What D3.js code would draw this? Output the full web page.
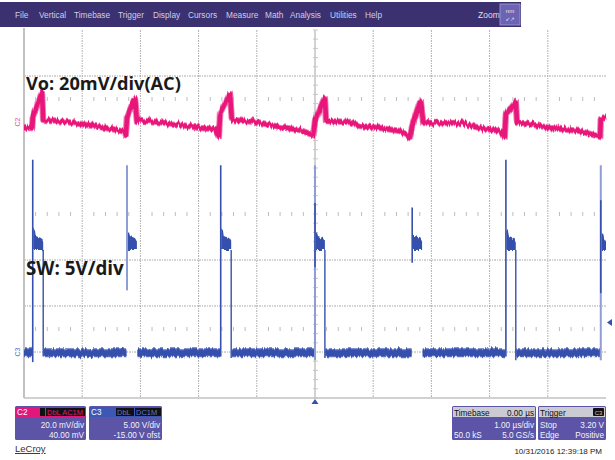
<!DOCTYPE html>
<html><head><meta charset="utf-8">
<script src="https://cdn.jsdelivr.net/npm/d3@7"></script>
<style>body{margin:0;background:#fff}svg{display:block}</style>
</head><body>
<svg id="c" width="615" height="460"></svg>
<script>
// ---------------- DATA ----------------
const menuItems = ["File","Vertical","Timebase","Trigger","Display","Cursors","Measure","Math","Analysis","Utilities","Help"];
const menuX = [15,39,74,118,153,188,226,265,290,330,365];
// time axis (µs), 1 µs/div, trigger at 0
const timeDivs = [-5,-4,-3,-2,-1,0,1,2,3,4,5];
// Vo (C2, AC, 20 mV/div): time µs, mV
const voT = [-5.00,-4.86,-4.85,-4.71,-4.69,-4.67,-4.55,-4.26,-3.69,-3.40,-3.26,-3.25,-3.23,-3.11,-3.09,-3.06,-2.84,-2.41,-1.98,-1.72,-1.65,-1.63,-1.48,-1.46,-1.43,-1.00,-0.60,-0.26,-0.03,0.00,0.15,0.17,0.19,0.60,0.77,1.12,1.46,1.63,1.67,1.80,1.82,1.86,2.49,2.84,3.18,3.26,3.28,3.44,3.45,3.47,3.69,4.04,4.55,4.90,4.91,5.00];
const voMv = [-2.6,-2.6,1.7,11.7,12.6,0.9,0.9,0.0,-2.2,-3.5,-4.3,-5.7,2.2,9.6,10.0,0.4,0.4,-0.9,-2.6,-3.0,-6.1,3.5,11.3,12.2,0.9,0.0,-2.2,-3.5,-5.7,0.9,9.6,10.4,0.4,0.0,-1.7,-2.6,-3.9,-6.5,-2.2,8.3,8.7,-0.4,-0.4,-2.6,-3.9,-6.5,3.5,8.3,8.7,0.0,-0.9,-2.6,-3.9,-6.5,1.3,1.7];
// SW (C3, 5 V/div): pulse timing (µs) and levels (V)
const swStart = [-4.85,-3.23,-1.62,0.00,1.67,3.28,4.91];
const swEnd   = [-4.67,-3.06,-1.44,0.17,1.84,3.45,5.00];
const edgeTop = [20.9,20.3,20.3,20.3,15.7,20.9,20.3];
const edgeBot = [-1.1,6.7,-0.5,-0.9,9.7,-0.5,-0.9];
const edgeFaint = [false,true,false,true,false,false,true];
const darkTop = [null,null,null,16.2,null,null,16.5];
const darkBot = [null,null,null,9.2,null,null,6.4];
const fallBot = [-0.5,null,-0.65,-0.65,null,-0.9,null];
const plateauPeak = [13.4,13.0,13.4,13.0,12.6,13.2,13.0];
const plateauTop = 12.4, plateauBot = 11.1;
const trigLevel = 3.2;

// ---------------- LAYOUT ----------------
const svg = d3.select("#c");
const X0 = 24, X1 = 606, Y0 = 30, DIV = 46;
const x = d3.scaleLinear().domain([-5,5]).range([X0,X1]);
const yVo = d3.scaleLinear().domain([-20,20]).range([Y0+DIV*3, Y0+DIV*1]); // 0 mV at 122
const ySw = d3.scaleLinear().domain([0,5]).range([Y0+DIV*7, Y0+DIV*6]);   // 0 V at 352
const pink = "#e8157a", blue = "#3650ad", faintBlue = "#8f9cd6";

// trace "fuzz" style filters (vertical jitter only)
const defs = svg.append("defs");
function fuzz(id, scale, seed){
  const flt = defs.append("filter").attr("id",id).attr("filterUnits","userSpaceOnUse")
    .attr("x",0).attr("y",0).attr("width",615).attr("height",460);
  flt.append("feTurbulence").attr("type","fractalNoise").attr("baseFrequency","0.55 0.03").attr("numOctaves",2).attr("seed",seed).attr("result","n");
  flt.append("feColorMatrix").attr("in","n").attr("type","matrix")
    .attr("values","0 0 0 0 0.5  0 1 0 0 0  0 0 1 0 0  0 0 0 1 0").attr("result","m");
  flt.append("feDisplacementMap").attr("in","SourceGraphic").attr("in2","m").attr("scale",scale)
    .attr("xChannelSelector","R").attr("yChannelSelector","G");
}
fuzz("fuzzP",7,3);
fuzz("fuzzB",5,7);

// menu bar
svg.append("rect").attr("x",0).attr("y",2).attr("width",521).attr("height",25).attr("fill","#3b3170");
svg.selectAll("text.menu").data(menuItems).join("text").attr("class","menu")
  .attr("x",(d,i)=>menuX[i]).attr("y",18).text(d=>d)
  .attr("font-family","Liberation Sans, Arial, sans-serif").attr("font-size",8.3).attr("fill","#cfcde6");
svg.append("text").attr("x",478).attr("y",18).text("Zoom").attr("font-family","Liberation Sans, Arial, sans-serif").attr("font-size",8.5).attr("fill","#e0def2");
svg.append("rect").attr("x",500).attr("y",4).attr("width",20).attr("height",21).attr("fill","#6c63b2").attr("stroke","#a59fd8").attr("stroke-width",0.8);
svg.append("text").attr("x",510).attr("y",13).attr("text-anchor","middle").text("nm").attr("font-family","Liberation Sans, Arial").attr("font-size",6).attr("fill","#e8e6f8");
svg.append("text").attr("x",510).attr("y",21).attr("text-anchor","middle").text("\u2199\u2197").attr("font-family","DejaVu Sans").attr("font-size",5.5).attr("fill","#e8e6f8");

// grid
const g = svg.append("g");
timeDivs.forEach((t,i)=>{
  if (i===0 || i===5 || i===10) return;
  g.append("line").attr("x1",x(t)).attr("x2",x(t)).attr("y1",Y0).attr("y2",Y0+DIV*8)
    .attr("stroke","#b0b0b0").attr("stroke-width",1).attr("stroke-dasharray","2,1,1,1");
});
[1,5,6,7].forEach(k=>{
  g.append("line").attr("x1",X0).attr("x2",X1).attr("y1",Y0+DIV*k).attr("y2",Y0+DIV*k)
    .attr("stroke","#a8a8a8").attr("stroke-width",1).attr("stroke-dasharray","2,1,1,1");
});
// tick rows
const minor = d3.range(0,51).map(n=>-5+n*0.2);
[1.5,4,6.5].forEach(k=>{
  g.selectAll(null).data(minor.filter((m,i)=>i%5!==0)).join("line")
    .attr("x1",d=>x(d)).attr("x2",d=>x(d)).attr("y1",Y0+DIV*k-2).attr("y2",Y0+DIV*k+2)
    .attr("stroke","#bdbdbd").attr("stroke-width",1);
});
// center vertical axis with ticks
g.append("line").attr("x1",x(0)).attr("x2",x(0)).attr("y1",Y0).attr("y2",Y0+DIV*8).attr("stroke","#d2d2d2").attr("stroke-width",2);
g.selectAll(null).data(d3.range(0,41)).join("line")
  .attr("x1",x(0)-2).attr("x2",x(0)+3).attr("y1",d=>Y0+d*DIV/5).attr("y2",d=>Y0+d*DIV/5)
  .attr("stroke","#c8c8c8").attr("stroke-width",1);
// left and bottom border
g.append("line").attr("x1",X0).attr("x2",X0).attr("y1",Y0-2).attr("y2",Y0+DIV*8).attr("stroke","#c2c2c2").attr("stroke-width",2);
g.append("line").attr("x1",X0).attr("x2",X1).attr("y1",Y0+DIV*8).attr("y2",Y0+DIV*8).attr("stroke","#c2c2c2").attr("stroke-width",1.5);

// ---------------- SW trace ----------------
const tr = svg.append("g");
const fz = tr.append("g").attr("filter","url(#fuzzB)");
// baseline segments
const segs = [];
segs.push([-5, swStart[0]]);
for (let i=0;i<swStart.length-1;i++) segs.push([swEnd[i]+0.01, swStart[i+1]-0.01]);
fz.selectAll(null).data(segs).join("line")
  .attr("x1",d=>x(d[0])).attr("x2",d=>x(d[1])).attr("y1",ySw(-0.08)).attr("y2",ySw(-0.08))
  .attr("stroke","#5a6ec2").attr("stroke-width",9);
fz.selectAll(null).data(segs).join("line")
  .attr("x1",d=>x(d[0])).attr("x2",d=>x(d[1])).attr("y1",ySw(-0.08)).attr("y2",ySw(-0.08))
  .attr("stroke",blue).attr("stroke-width",6.5);
// plateaus
fz.selectAll(null).data(swStart).join("path")
  .attr("d",(d,i)=>{
    const a=x(d)+0.5, b=x(swEnd[i]);
    return `M${a},${ySw(plateauPeak[i])} L${a+1.5},${ySw(plateauPeak[i])} L${a+2.5},${ySw(plateauTop+0.2)} L${b-2},${ySw(plateauTop)} L${b},${ySw(plateauTop-0.4)} L${b},${ySw(plateauBot)} L${a},${ySw(plateauBot)} Z`;
  }).attr("fill",blue);
// rising edges
tr.selectAll(null).data(swStart).join("line")
  .attr("x1",d=>x(d)).attr("x2",d=>x(d)).attr("y1",(d,i)=>ySw(edgeTop[i])).attr("y2",(d,i)=>ySw(edgeBot[i]))
  .attr("stroke",(d,i)=>edgeFaint[i]?faintBlue:blue).attr("stroke-width",(d,i)=>edgeFaint[i]?2:1.6);
tr.selectAll(null).data(swStart.map((d,i)=>i).filter(i=>darkTop[i]!==null)).join("line")
  .attr("x1",i=>x(swStart[i])).attr("x2",i=>x(swStart[i])).attr("y1",i=>ySw(darkTop[i])).attr("y2",i=>ySw(darkBot[i]))
  .attr("stroke",blue).attr("stroke-width",1.6);
// falling edges
tr.selectAll(null).data(swEnd.map((d,i)=>i).filter(i=>fallBot[i]!==null)).join("line")
  .attr("x1",i=>x(swEnd[i])).attr("x2",i=>x(swEnd[i])).attr("y1",i=>ySw(plateauBot)).attr("y2",i=>ySw(fallBot[i]))
  .attr("stroke",blue).attr("stroke-width",1.4);

// ---------------- Vo trace ----------------
const line = d3.line().x((d,i)=>x(voT[i])).y(d=>yVo(d));
const fp = tr.append("g").attr("filter","url(#fuzzP)");
fp.append("path").attr("d",line(voMv)).attr("fill","none").attr("stroke","#f27fb3").attr("stroke-width",6.5).attr("stroke-linejoin","round");
fp.append("path").attr("d",line(voMv)).attr("fill","none").attr("stroke",pink).attr("stroke-width",4.6).attr("stroke-linejoin","round");

// markers
svg.append("text").attr("transform",`translate(20,${yVo(0)}) rotate(-90)`).attr("text-anchor","middle")
  .text("C2").attr("font-family","Liberation Sans, Arial").attr("font-size",7).attr("fill","#e84f98");
svg.append("text").attr("transform",`translate(20,${ySw(0)}) rotate(-90)`).attr("text-anchor","middle")
  .text("C3").attr("font-family","Liberation Sans, Arial").attr("font-size",7).attr("fill","#5a70c0");
svg.append("path").attr("d",`M${X1+1},${ySw(trigLevel)} l5,-3.5 l0,7 Z`).attr("fill",blue);
svg.append("path").attr("d",`M${x(0)},${Y0+DIV*8+1} l-3.5,5 l7,0 Z`).attr("fill",blue);

// annotations
svg.append("text").attr("x",26).attr("y",90).text("Vo: 20mV/div(AC)")
  .attr("font-family","Open Sans, sans-serif").attr("font-weight",700).attr("font-size",18.2).attr("fill","#1a1a1a");
svg.append("text").attr("x",26).attr("y",275).text("SW: 5V/div")
  .attr("font-family","Open Sans, sans-serif").attr("font-weight",700).attr("font-size",18.8).attr("fill","#1a1a1a");

// ---------------- info panels ----------------
const F = "Liberation Sans, Arial, sans-serif";
function panel(px,py,w,hdrFill,rows){
  svg.append("rect").attr("x",px).attr("y",py).attr("width",w).attr("height",34).attr("rx",1.5).attr("fill","#5c54a6");
  svg.append("rect").attr("x",px+1).attr("y",py+1).attr("width",w-2).attr("height",10).attr("fill",hdrFill);
  rows.forEach(r=>{
    svg.append("text").attr("x",r.anchor==="end"?px+w-2:px+2).attr("y",py+r.y).attr("text-anchor",r.anchor)
      .text(r.t).attr("font-family",F).attr("font-size",8.2).attr("fill",r.fill||"#f2f2fa");
  });
}
panel(15,406,71,"#e0187c",[{t:"20.0 mV/div",y:21.5,anchor:"end"},{t:"40.00 mV",y:31.5,anchor:"end"}]);
svg.append("text").attr("x",17).attr("y",415).text("C2").attr("font-family",F).attr("font-size",8.2).attr("fill","#fff");
svg.append("rect").attr("x",40).attr("y",408).attr("width",5).attr("height",8).attr("fill","#111");
svg.append("rect").attr("x",46).attr("y",408).attr("width",39).attr("height",8).attr("fill","#111");
svg.append("text").attr("x",47).attr("y",415).text("DbL AC1M").attr("font-family",F).attr("font-size",7.5).attr("fill","#e0187c");

panel(89,406,73,"#3c58b4",[{t:"5.00 V/div",y:21.5,anchor:"end"},{t:"-15.00 V ofst",y:31.5,anchor:"end"}]);
svg.append("text").attr("x",91).attr("y",415).text("C3").attr("font-family",F).attr("font-size",8.2).attr("fill","#fff");
svg.append("rect").attr("x",116).attr("y",408).attr("width",18).attr("height",8).attr("fill","#111");
svg.append("rect").attr("x",135).attr("y",408).attr("width",26).attr("height",8).attr("fill","#111");
svg.append("text").attr("x",117).attr("y",415).text("DbL").attr("font-family",F).attr("font-size",7.5).attr("fill","#5a78d8");
svg.append("text").attr("x",136).attr("y",415).text("DC1M").attr("font-family",F).attr("font-size",7.5).attr("fill","#5a78d8");

panel(452,406,84,"#cbcbd4",[{t:"Timebase",y:9.5,anchor:"start",fill:"#111"},{t:"0.00 µs",y:9.5,anchor:"end",fill:"#111"},
  {t:"1.00 µs/div",y:21.5,anchor:"end"},{t:"50.0 kS",y:31.5,anchor:"start"},{t:"5.0 GS/s",y:31.5,anchor:"end"}]);
panel(538,406,68,"#cbcbd4",[{t:"Trigger",y:9.5,anchor:"start",fill:"#111"},
  {t:"Stop",y:21.5,anchor:"start"},{t:"3.20 V",y:21.5,anchor:"end"},{t:"Edge",y:31.5,anchor:"start"},{t:"Positive",y:31.5,anchor:"end"}]);
svg.append("rect").attr("x",593).attr("y",408).attr("width",11).attr("height",8).attr("rx",1).attr("fill","#111");
svg.append("text").attr("x",598.5).attr("y",414.5).attr("text-anchor","middle").text("C3").attr("font-family",F).attr("font-size",6).attr("fill","#cbcbd4");

svg.append("text").attr("x",15).attr("y",452).text("LeCroy").attr("font-family",F).attr("font-size",9.5).attr("fill","#333").attr("text-decoration","underline");
svg.append("text").attr("x",602).attr("y",454).attr("text-anchor","end").text("10/31/2016 12:39:18 PM").attr("font-family",F).attr("font-size",8).attr("fill","#222");
</script>
</body></html>
